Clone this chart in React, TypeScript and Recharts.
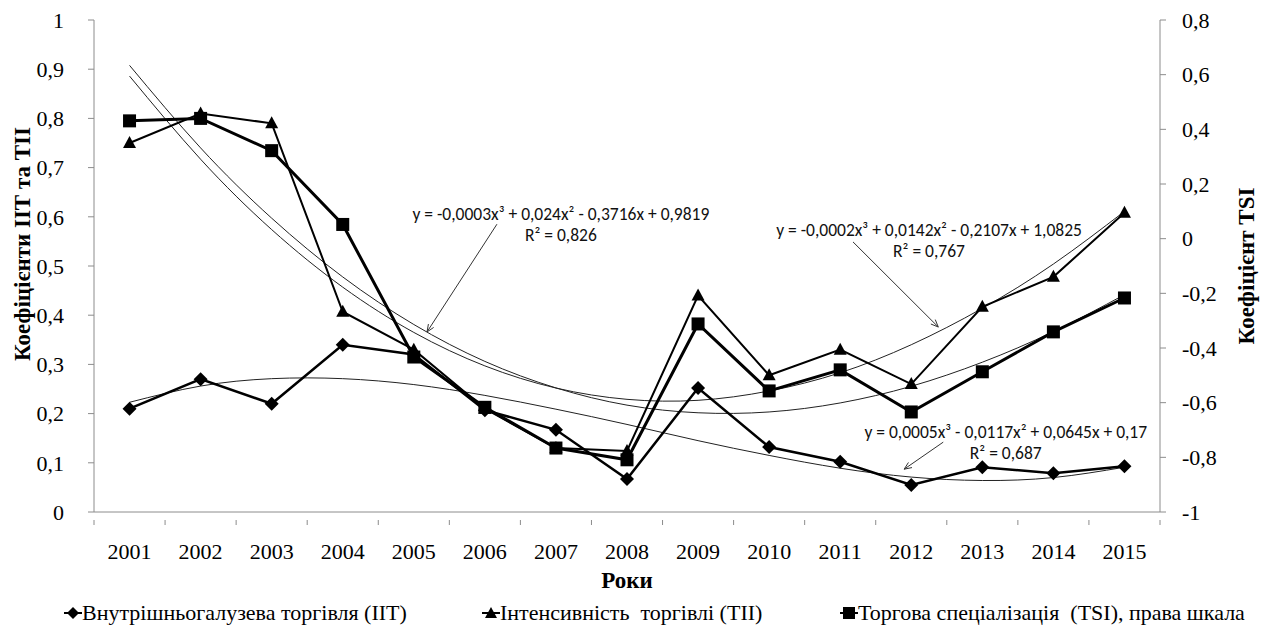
import React from 'react';
import { ComposedChart, Line, XAxis, YAxis, ReferenceLine, ReferenceDot, Label } from 'recharts';

const years = ['2001', '2002', '2003', '2004', '2005', '2006', '2007', '2008', '2009', '2010', '2011', '2012', '2013', '2014', '2015'];
const iitValues = [0.21, 0.27, 0.22, 0.34, 0.32, 0.207, 0.167, 0.067, 0.252, 0.132, 0.102, 0.055, 0.091, 0.079, 0.093];
const tiiValues = [0.75, 0.81, 0.79, 0.407, 0.33, 0.21, 0.13, 0.124, 0.44, 0.278, 0.33, 0.26, 0.417, 0.478, 0.608];
const tsiValues = [0.431, 0.44, 0.322, 0.052, -0.433, -0.617, -0.766, -0.809, -0.312, -0.557, -0.48, -0.634, -0.487, -0.341, -0.217];
const iitTrend = [0.223, 0.256, 0.271, 0.271, 0.259, 0.237, 0.209, 0.178, 0.145, 0.115, 0.089, 0.071, 0.064, 0.07, 0.091];
const tiiTrend = [0.886, 0.717, 0.574, 0.457, 0.365, 0.297, 0.252, 0.229, 0.227, 0.246, 0.283, 0.34, 0.414, 0.504, 0.611];
const tsiTrend = [0.634, 0.332, 0.075, -0.14, -0.314, -0.449, -0.546, -0.609, -0.637, -0.634, -0.601, -0.54, -0.452, -0.34, -0.205];
const leftTicks = [0, 0.1, 0.2, 0.3, 0.4, 0.5, 0.6, 0.7, 0.8, 0.9, 1];
const rightTicks = [-1, -0.8, -0.6, -0.4, -0.2, 0, 0.2, 0.4, 0.6, 0.8];
const xTicks = [0.5, 1.5, 2.5, 3.5, 4.5, 5.5, 6.5, 7.5, 8.5, 9.5, 10.5, 11.5, 12.5, 13.5, 14.5, 15.5];

const legendNames = ['Внутрішньогалузева торгівля (ІІТ)', 'Інтенсивність  торгівлі (ТІІ)', 'Торгова спеціалізація  (TSI), права шкала'];
const trendEquations = [
  ['y = -0,0003x³ + 0,024x² - 0,3716x + 0,9819', 'R² = 0,826'],
  ['y = -0,0002x³ + 0,0142x² - 0,2107x + 1,0825', 'R² = 0,767'],
  ['y = 0,0005x³ - 0,0117x² + 0,0645x + 0,17', 'R² = 0,687'],
];

const data = years.map((year, i) => ({
  x: i + 1,
  year,
  iit: iitValues[i],
  tii: tiiValues[i],
  tsi: tsiValues[i],
  iitTrend: iitTrend[i],
  tiiTrend: tiiTrend[i],
  tsiTrend: tsiTrend[i],
}));

const CHART_W = 1266;
const CHART_H = 636;
const HALF_BAND = 1066 / 15 / 2;
const SERIF = '"Liberation Serif", "Times New Roman", serif';
const SANS = 'Carlito, "Open Sans", sans-serif';
const AXIS_GRAY = '#8c8c8c';

const fmt = (v: number) => String(v).replace('.', ',');

const DiamondDot = (props: any) => {
  const { cx, cy, index } = props;
  if (cx == null || cy == null) return null;
  const r = 7;
  return <polygon key={`d${index}`} points={`${cx},${cy - r} ${cx + r},${cy} ${cx},${cy + r} ${cx - r},${cy}`} fill="#000" />;
};
const TriangleDot = (props: any) => {
  const { cx, cy, index } = props;
  if (cx == null || cy == null) return null;
  return <polygon key={`t${index}`} points={`${cx},${cy - 7} ${cx + 6.5},${cy + 5} ${cx - 6.5},${cy + 5}`} fill="#000" />;
};
const SquareDot = (props: any) => {
  const { cx, cy, index } = props;
  if (cx == null || cy == null) return null;
  return <rect key={`s${index}`} x={cx - 6.5} y={cy - 6.5} width={13} height={13} fill="#000" />;
};

const XTick = (props: any) => {
  const { x, y, payload } = props;
  const v = payload.value as number;
  const idx = Math.round(v + 0.5) - 1;
  return (
    <g>
      <line x1={x} y1={y} x2={x} y2={y + 5} stroke={AXIS_GRAY} strokeWidth={1} />
      {idx < years.length && (
        <text x={x + HALF_BAND} y={y + 39} textAnchor="middle" fontFamily={SERIF} fontSize={22} fill="#000">
          {years[idx]}
        </text>
      )}
    </g>
  );
};

const Arrow = (props: any) => {
  const { x1, y1, x2, y2 } = props;
  if ([x1, y1, x2, y2].some((v) => v == null || isNaN(v))) return null;
  const ang = Math.atan2(y2 - y1, x2 - x1);
  const L = 8;
  const a1 = ang + Math.PI - 0.4;
  const a2 = ang + Math.PI + 0.4;
  return (
    <g>
      <line x1={x1} y1={y1} x2={x2} y2={y2} stroke="#333" strokeWidth={1} />
      <polyline
        points={`${x2 + L * Math.cos(a1)},${y2 + L * Math.sin(a1)} ${x2},${y2} ${x2 + L * Math.cos(a2)},${y2 + L * Math.sin(a2)}`}
        fill="none"
        stroke="#333"
        strokeWidth={1}
      />
    </g>
  );
};

const eqShape = (lines: string[]) => (props: any) => {
  const { cx, cy } = props;
  if (cx == null || cy == null) return null;
  return (
    <g>
      <text x={cx} y={cy + 6} textAnchor="middle" fontFamily={SANS} fontSize={17.5} fill="#111">{lines[0]}</text>
      <text x={cx} y={cy + 27} textAnchor="middle" fontFamily={SANS} fontSize={17.5} fill="#111">{lines[1]}</text>
    </g>
  );
};

const LegendMarker = ({ kind }: { kind: number }) => (
  <svg width={18} height={16} style={{ display: 'inline-block', verticalAlign: 'middle', marginBottom: 3 }}>
    <line x1={0} y1={8} x2={18} y2={8} stroke="#000" strokeWidth={2} />
    {kind === 0 && <polygon points="9,2 15,8 9,14 3,8" fill="#000" />}
    {kind === 1 && <polygon points="9,2 15,13 3,13" fill="#000" />}
    {kind === 2 && <rect x={3} y={2} width={12} height={12} fill="#000" />}
  </svg>
);

const legendLefts = [64, 482, 840];

export default function App() {
  return (
    <div style={{ position: 'absolute', left: 0, top: 0, width: CHART_W, height: CHART_H, background: '#fff' }}>
      <ComposedChart width={CHART_W} height={CHART_H} data={data} margin={{ top: 20, right: 46, bottom: 84, left: 34 }}>
        <XAxis
          dataKey="x"
          type="number"
          domain={[0.5, 15.5]}
          ticks={xTicks}
          interval={0}
          tickLine={false}
          tick={<XTick />}
          axisLine={{ stroke: AXIS_GRAY }}
          height={40}
          allowDataOverflow
        >
          <Label
            content={(p: any) => {
              const vb = p.viewBox || {};
              return (
                <text x={vb.x + vb.width / 2} y={588} textAnchor="middle" fontFamily={SERIF} fontWeight="bold" fontSize={23} fill="#000">
                  Роки
                </text>
              );
            }}
          />
        </XAxis>
        <YAxis
          yAxisId="left"
          domain={[0, 1]}
          ticks={leftTicks}
          interval={0}
          width={60}
          tickSize={6}
          tickMargin={24}
          tickFormatter={fmt}
          tick={{ fontFamily: SERIF, fontSize: 22, fill: '#000' }}
          axisLine={{ stroke: AXIS_GRAY }}
          tickLine={{ stroke: AXIS_GRAY }}
        >
          <Label
            content={(p: any) => {
              const vb = p.viewBox || {};
              const cx = vb.x - 12;
              const cy = vb.y + vb.height / 2 - 22;
              return (
                <text x={cx} y={cy} transform={`rotate(-90 ${cx} ${cy})`} textAnchor="middle" dominantBaseline="central" fontFamily={SERIF} fontWeight="bold" fontSize={23} fill="#000">
                  Коефіцієнти ІІТ та ТІІ
                </text>
              );
            }}
          />
        </YAxis>
        <YAxis
          yAxisId="right"
          orientation="right"
          domain={[-1, 0.8]}
          ticks={rightTicks}
          interval={0}
          width={60}
          tickSize={6}
          tickMargin={16}
          tickFormatter={fmt}
          tick={{ fontFamily: SERIF, fontSize: 22, fill: '#000' }}
          axisLine={{ stroke: AXIS_GRAY }}
          tickLine={{ stroke: AXIS_GRAY }}
        >
          <Label
            content={(p: any) => {
              const vb = p.viewBox || {};
              const cx = vb.x + vb.width + 26;
              const cy = vb.y + vb.height / 2;
              return (
                <text x={cx} y={cy} transform={`rotate(-90 ${cx} ${cy})`} textAnchor="middle" dominantBaseline="central" fontFamily={SERIF} fontWeight="bold" fontSize={23} fill="#000">
                  Коефіцієнт TSI
                </text>
              );
            }}
          />
        </YAxis>

        <Line yAxisId="right" type="natural" dataKey="tsiTrend" stroke="#222" strokeWidth={1} dot={false} isAnimationActive={false} />
        <Line yAxisId="left" type="natural" dataKey="tiiTrend" stroke="#222" strokeWidth={1} dot={false} isAnimationActive={false} />
        <Line yAxisId="left" type="natural" dataKey="iitTrend" stroke="#222" strokeWidth={1} dot={false} isAnimationActive={false} />

        <Line yAxisId="left" type="linear" dataKey="iit" stroke="#000" strokeWidth={2.5} dot={<DiamondDot />} isAnimationActive={false} />
        <Line yAxisId="left" type="linear" dataKey="tii" stroke="#000" strokeWidth={2} dot={<TriangleDot />} isAnimationActive={false} />
        <Line yAxisId="right" type="linear" dataKey="tsi" stroke="#000" strokeWidth={3} dot={<SquareDot />} isAnimationActive={false} />

        <ReferenceLine yAxisId="left" segment={[{ x: 6.17, y: 0.585 }, { x: 5.186, y: 0.366 }]} shape={<Arrow />} />
        <ReferenceLine yAxisId="left" segment={[{ x: 11.18, y: 0.549 }, { x: 12.38, y: 0.376 }]} shape={<Arrow />} />
        <ReferenceLine yAxisId="left" segment={[{ x: 12.45, y: 0.142 }, { x: 11.9, y: 0.087 }]} shape={<Arrow />} />

        <ReferenceDot yAxisId="left" x={7.07} y={0.606} shape={eqShape(trendEquations[0])} />
        <ReferenceDot yAxisId="left" x={12.25} y={0.573} shape={eqShape(trendEquations[1])} />
        <ReferenceDot yAxisId="left" x={13.33} y={0.163} shape={eqShape(trendEquations[2])} />
      </ComposedChart>

      {legendNames.map((name, i) => (
        <div
          key={name}
          style={{
            position: 'absolute',
            left: legendLefts[i],
            top: 600,
            fontFamily: SERIF,
            fontSize: 22,
            color: '#000',
            whiteSpace: 'pre',
            lineHeight: '26px',
          }}
        >
          <LegendMarker kind={i} />
          {name}
        </div>
      ))}
    </div>
  );
}
